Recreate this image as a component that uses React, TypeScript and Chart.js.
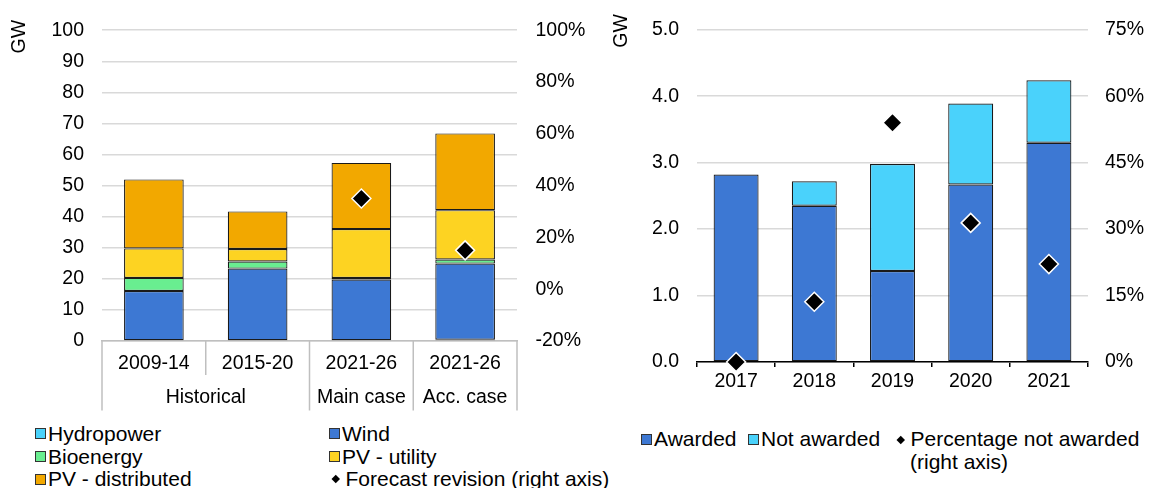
import React, { useEffect, useRef } from "react";
import { Chart, registerables } from "chart.js";

Chart.register(...registerables);

// ---------- Left chart data ----------
const periodLabels = ["2009-14", "2015-20", "2021-26", "2021-26"];
const groupLabels = ["Historical", "Main case", "Acc. case"];
const groupSpans = [2, 1, 1];
const hydropower = [0, -0.7, 0, 0.4];
const wind = [16.1, 23.3, 19.8, 24.5];
const bioenergy = [4.2, 2.3, 0.5, 1.3];
const pvUtility = [9.5, 4.0, 15.7, 15.9];
const pvDistributed = [22.2, 12.1, 21.3, 24.7];
const forecastRevision = [null, null, 35, 15];

// ---------- Right chart data ----------
const years = ["2017", "2018", "2019", "2020", "2021"];
const awarded = [2.82, 2.35, 1.37, 2.67, 3.3];
const notAwarded = [0, 0.37, 1.61, 1.22, 0.94];
const pctNotAwarded = [0, 13.6, 54.0, 31.4, 22.1];

const FONT = "'Liberation Sans', Arial, sans-serif";
const C_WIND = "#3D78D3";
const C_HYDRO = "#4AD2FB";
const C_BIO = "#69EE90";
const C_UTIL = "#FDD322";
const C_DIST = "#F2A800";
const GRID = "#d9d9d9";
const TICK_SIZE = 19.5;
const LEGEND_SIZE = 21;

const tickFont = { family: FONT, size: TICK_SIZE };

function gwPlugin(cx: number, cy: number) {
  return {
    id: "gwLabel",
    afterDraw(chart: any) {
      const ctx = chart.ctx;
      ctx.save();
      ctx.translate(cx, cy);
      ctx.rotate(-Math.PI / 2);
      ctx.font = `${TICK_SIZE}px ${FONT}`;
      ctx.fillStyle = "#000";
      ctx.textAlign = "center";
      ctx.textBaseline = "middle";
      ctx.fillText("GW", 0, 0);
      ctx.restore();
    },
  };
}

const groupPlugin = {
  id: "groupAxis",
  afterDraw(chart: any) {
    const x = chart.scales.x;
    const ctx = chart.ctx;
    const n = periodLabels.length;
    const w = (x.right - x.left) / n;
    const top = chart.chartArea.bottom;
    const bounds: number[] = [0];
    let acc = 0;
    groupSpans.forEach((s) => {
      acc += s;
      bounds.push(acc);
    });
    ctx.save();
    ctx.strokeStyle = "#bfbfbf";
    ctx.lineWidth = 1.5;
    for (let k = 0; k <= n; k++) {
      const len = bounds.includes(k) ? 69.5 : 34;
      const px = x.left + k * w;
      ctx.beginPath();
      ctx.moveTo(px, top);
      ctx.lineTo(px, top + len);
      ctx.stroke();
    }
    ctx.font = `${TICK_SIZE}px ${FONT}`;
    ctx.fillStyle = "#000";
    ctx.textAlign = "center";
    ctx.textBaseline = "middle";
    let start = 0;
    groupLabels.forEach((g, i) => {
      const a = x.left + start * w;
      const b = x.left + (start + groupSpans[i]) * w;
      ctx.fillText(g, (a + b) / 2, top + 57);
      start += groupSpans[i];
    });
    ctx.restore();
  },
};

function LeftChart() {
  const ref = useRef<HTMLCanvasElement>(null);
  useEffect(() => {
    const barDs = (label: string, data: number[], color: string) => ({
      type: "bar" as const,
      label,
      data,
      backgroundColor: color,
      borderColor: "#1a1a1a",
      borderWidth: 1.2,
      borderSkipped: false,
      yAxisID: "y",
      stack: "s",
      categoryPercentage: 1,
      barPercentage: 0.575,
    });
    const chart = new Chart(ref.current!, {
      type: "bar",
      data: {
        labels: periodLabels,
        datasets: [
          {
            type: "line",
            label: "Forecast revision (right axis)",
            data: forecastRevision as any,
            yAxisID: "y1",
            showLine: false,
            pointStyle: "rectRot",
            pointRadius: 9.5,
            pointBackgroundColor: "#000",
            pointBorderColor: "#fff",
            pointBorderWidth: 1.5,
            order: -1,
            clip: false,
          } as any,
          barDs("Hydropower", hydropower, C_HYDRO),
          barDs("Wind", wind, C_WIND),
          barDs("Bioenergy", bioenergy, C_BIO),
          barDs("PV - utility", pvUtility, C_UTIL),
          barDs("PV - distributed", pvDistributed, C_DIST),
        ],
      },
      options: {
        responsive: false,
        animation: false,
        layout: { padding: { top: 24, left: 0, right: 0, bottom: 0 } },
        plugins: { legend: { display: false }, tooltip: { enabled: false } },
        scales: {
          x: {
            stacked: true,
            grid: { display: false, drawTicks: false },
            border: { display: true, color: "#bfbfbf", width: 1.5 },
            ticks: { font: tickFont, color: "#000", padding: 10.5, maxRotation: 0 },
            afterFit: (s: any) => {
              s.height = 79;
            },
          },
          y: {
            stacked: true,
            min: 0,
            max: 100,
            ticks: { stepSize: 10, font: tickFont, color: "#000", padding: 18 },
            grid: { color: GRID, lineWidth: 1.5, drawTicks: false },
            border: { display: false },
            afterFit: (s: any) => {
              s.width = 102;
            },
          },
          y1: {
            position: "right",
            min: -20,
            max: 100,
            ticks: {
              stepSize: 20,
              font: tickFont,
              color: "#000",
              padding: 18.5,
              callback: (v: any) => `${v}%`,
            },
            grid: { display: false, drawTicks: false },
            border: { display: false },
            afterFit: (s: any) => {
              s.width = 83;
            },
          },
        },
      },
      plugins: [groupPlugin, gwPlugin(19.7, 36.7)],
    });
    return () => chart.destroy();
  }, []);
  return (
    <canvas
      ref={ref}
      width={600}
      height={420}
      style={{ position: "absolute", left: 0, top: 0, width: 600, height: 420 }}
    />
  );
}

function RightChart() {
  const ref = useRef<HTMLCanvasElement>(null);
  useEffect(() => {
    const barDs = (label: string, data: number[], color: string) => ({
      type: "bar" as const,
      label,
      data,
      backgroundColor: color,
      borderColor: "#1a1a1a",
      borderWidth: 1.2,
      borderSkipped: false,
      yAxisID: "y",
      stack: "s",
      categoryPercentage: 1,
      barPercentage: 0.575,
    });
    const chart = new Chart(ref.current!, {
      type: "bar",
      data: {
        labels: years,
        datasets: [
          {
            type: "line",
            label: "Percentage not awarded (right axis)",
            data: pctNotAwarded,
            yAxisID: "y1",
            showLine: false,
            pointStyle: "rectRot",
            pointRadius: 9.5,
            pointBackgroundColor: "#000",
            pointBorderColor: "#fff",
            pointBorderWidth: 1.5,
            order: -1,
            clip: false,
          } as any,
          barDs("Awarded", awarded, C_WIND),
          barDs("Not awarded", notAwarded, C_HYDRO),
        ],
      },
      options: {
        responsive: false,
        animation: false,
        layout: { padding: { top: 23, left: 0, right: 0, bottom: 0 } },
        plugins: { legend: { display: false }, tooltip: { enabled: false } },
        scales: {
          x: {
            stacked: true,
            grid: {
              display: true,
              drawOnChartArea: false,
              drawTicks: true,
              tickLength: 5,
              color: "#000",
              lineWidth: 1.5,
              offset: true,
            },
            border: { display: true, color: "#000", width: 1.5 },
            ticks: { font: tickFont, color: "#000", padding: 3, maxRotation: 0 },
            afterFit: (s: any) => {
              s.height = 38;
            },
          },
          y: {
            stacked: true,
            min: 0,
            max: 5,
            ticks: {
              stepSize: 1,
              font: tickFont,
              color: "#000",
              padding: 18,
              callback: (v: any) => Number(v).toFixed(1),
            },
            grid: { color: GRID, lineWidth: 1.5, drawTicks: false },
            border: { display: false },
            afterFit: (s: any) => {
              s.width = 97;
            },
          },
          y1: {
            position: "right",
            min: 0,
            max: 75,
            ticks: {
              stepSize: 15,
              font: tickFont,
              color: "#000",
              padding: 17,
              callback: (v: any) => `${v}%`,
            },
            grid: { display: false, drawTicks: false },
            border: { display: false },
            afterFit: (s: any) => {
              s.width = 61;
            },
          },
        },
      },
      plugins: [gwPlugin(21.7, 31)],
    });
    return () => chart.destroy();
  }, []);
  return (
    <canvas
      ref={ref}
      width={549}
      height={400}
      style={{ position: "absolute", left: 600, top: 0, width: 549, height: 400 }}
    />
  );
}

function Box({ color }: { color: string }) {
  return (
    <span
      style={{
        display: "inline-block",
        width: 9,
        height: 9,
        background: color,
        border: "1px solid #333",
        marginRight: 2,
        boxSizing: "content-box",
      }}
    />
  );
}

function Diamond() {
  return (
    <span
      style={{
        display: "inline-block",
        width: 5.5,
        height: 5.5,
        background: "#000",
        transform: "rotate(45deg)",
        marginLeft: 2,
        marginRight: 7,
      }}
    />
  );
}

function LegendItem({
  x,
  y,
  marker,
  text,
}: {
  x: number;
  y: number;
  marker: React.ReactNode;
  text: React.ReactNode;
}) {
  return (
    <div
      style={{
        position: "absolute",
        left: x,
        top: y - 12,
        height: 24,
        lineHeight: "24px",
        display: "flex",
        alignItems: "center",
        whiteSpace: "nowrap",
        fontFamily: FONT,
        fontSize: LEGEND_SIZE,
        color: "#000",
      }}
    >
      {marker}
      <span>{text}</span>
    </div>
  );
}

export default function App() {
  return (
    <div
      style={{
        position: "absolute",
        left: 0,
        top: 0,
        width: 1149,
        height: 488,
        background: "#fff",
        overflow: "hidden",
      }}
    >
      <LeftChart />
      <RightChart />
      <LegendItem x={35} y={433.5} marker={<Box color={C_HYDRO} />} text="Hydropower" />
      <LegendItem x={35} y={456.5} marker={<Box color={C_BIO} />} text="Bioenergy" />
      <LegendItem x={35} y={479} marker={<Box color={C_DIST} />} text="PV - distributed" />
      <LegendItem x={329} y={433.5} marker={<Box color={C_WIND} />} text="Wind" />
      <LegendItem x={329} y={456.5} marker={<Box color={C_UTIL} />} text="PV - utility" />
      <LegendItem x={331} y={479} marker={<Diamond />} text="Forecast revision (right axis)" />
      <LegendItem x={641} y={439.3} marker={<Box color={C_WIND} />} text="Awarded" />
      <LegendItem x={748} y={439.3} marker={<Box color={C_HYDRO} />} text="Not awarded" />
      <LegendItem x={896} y={439.3} marker={<Diamond />} text="Percentage not awarded" />
      <LegendItem x={910} y={461.7} marker={null} text="(right axis)" />
    </div>
  );
}
